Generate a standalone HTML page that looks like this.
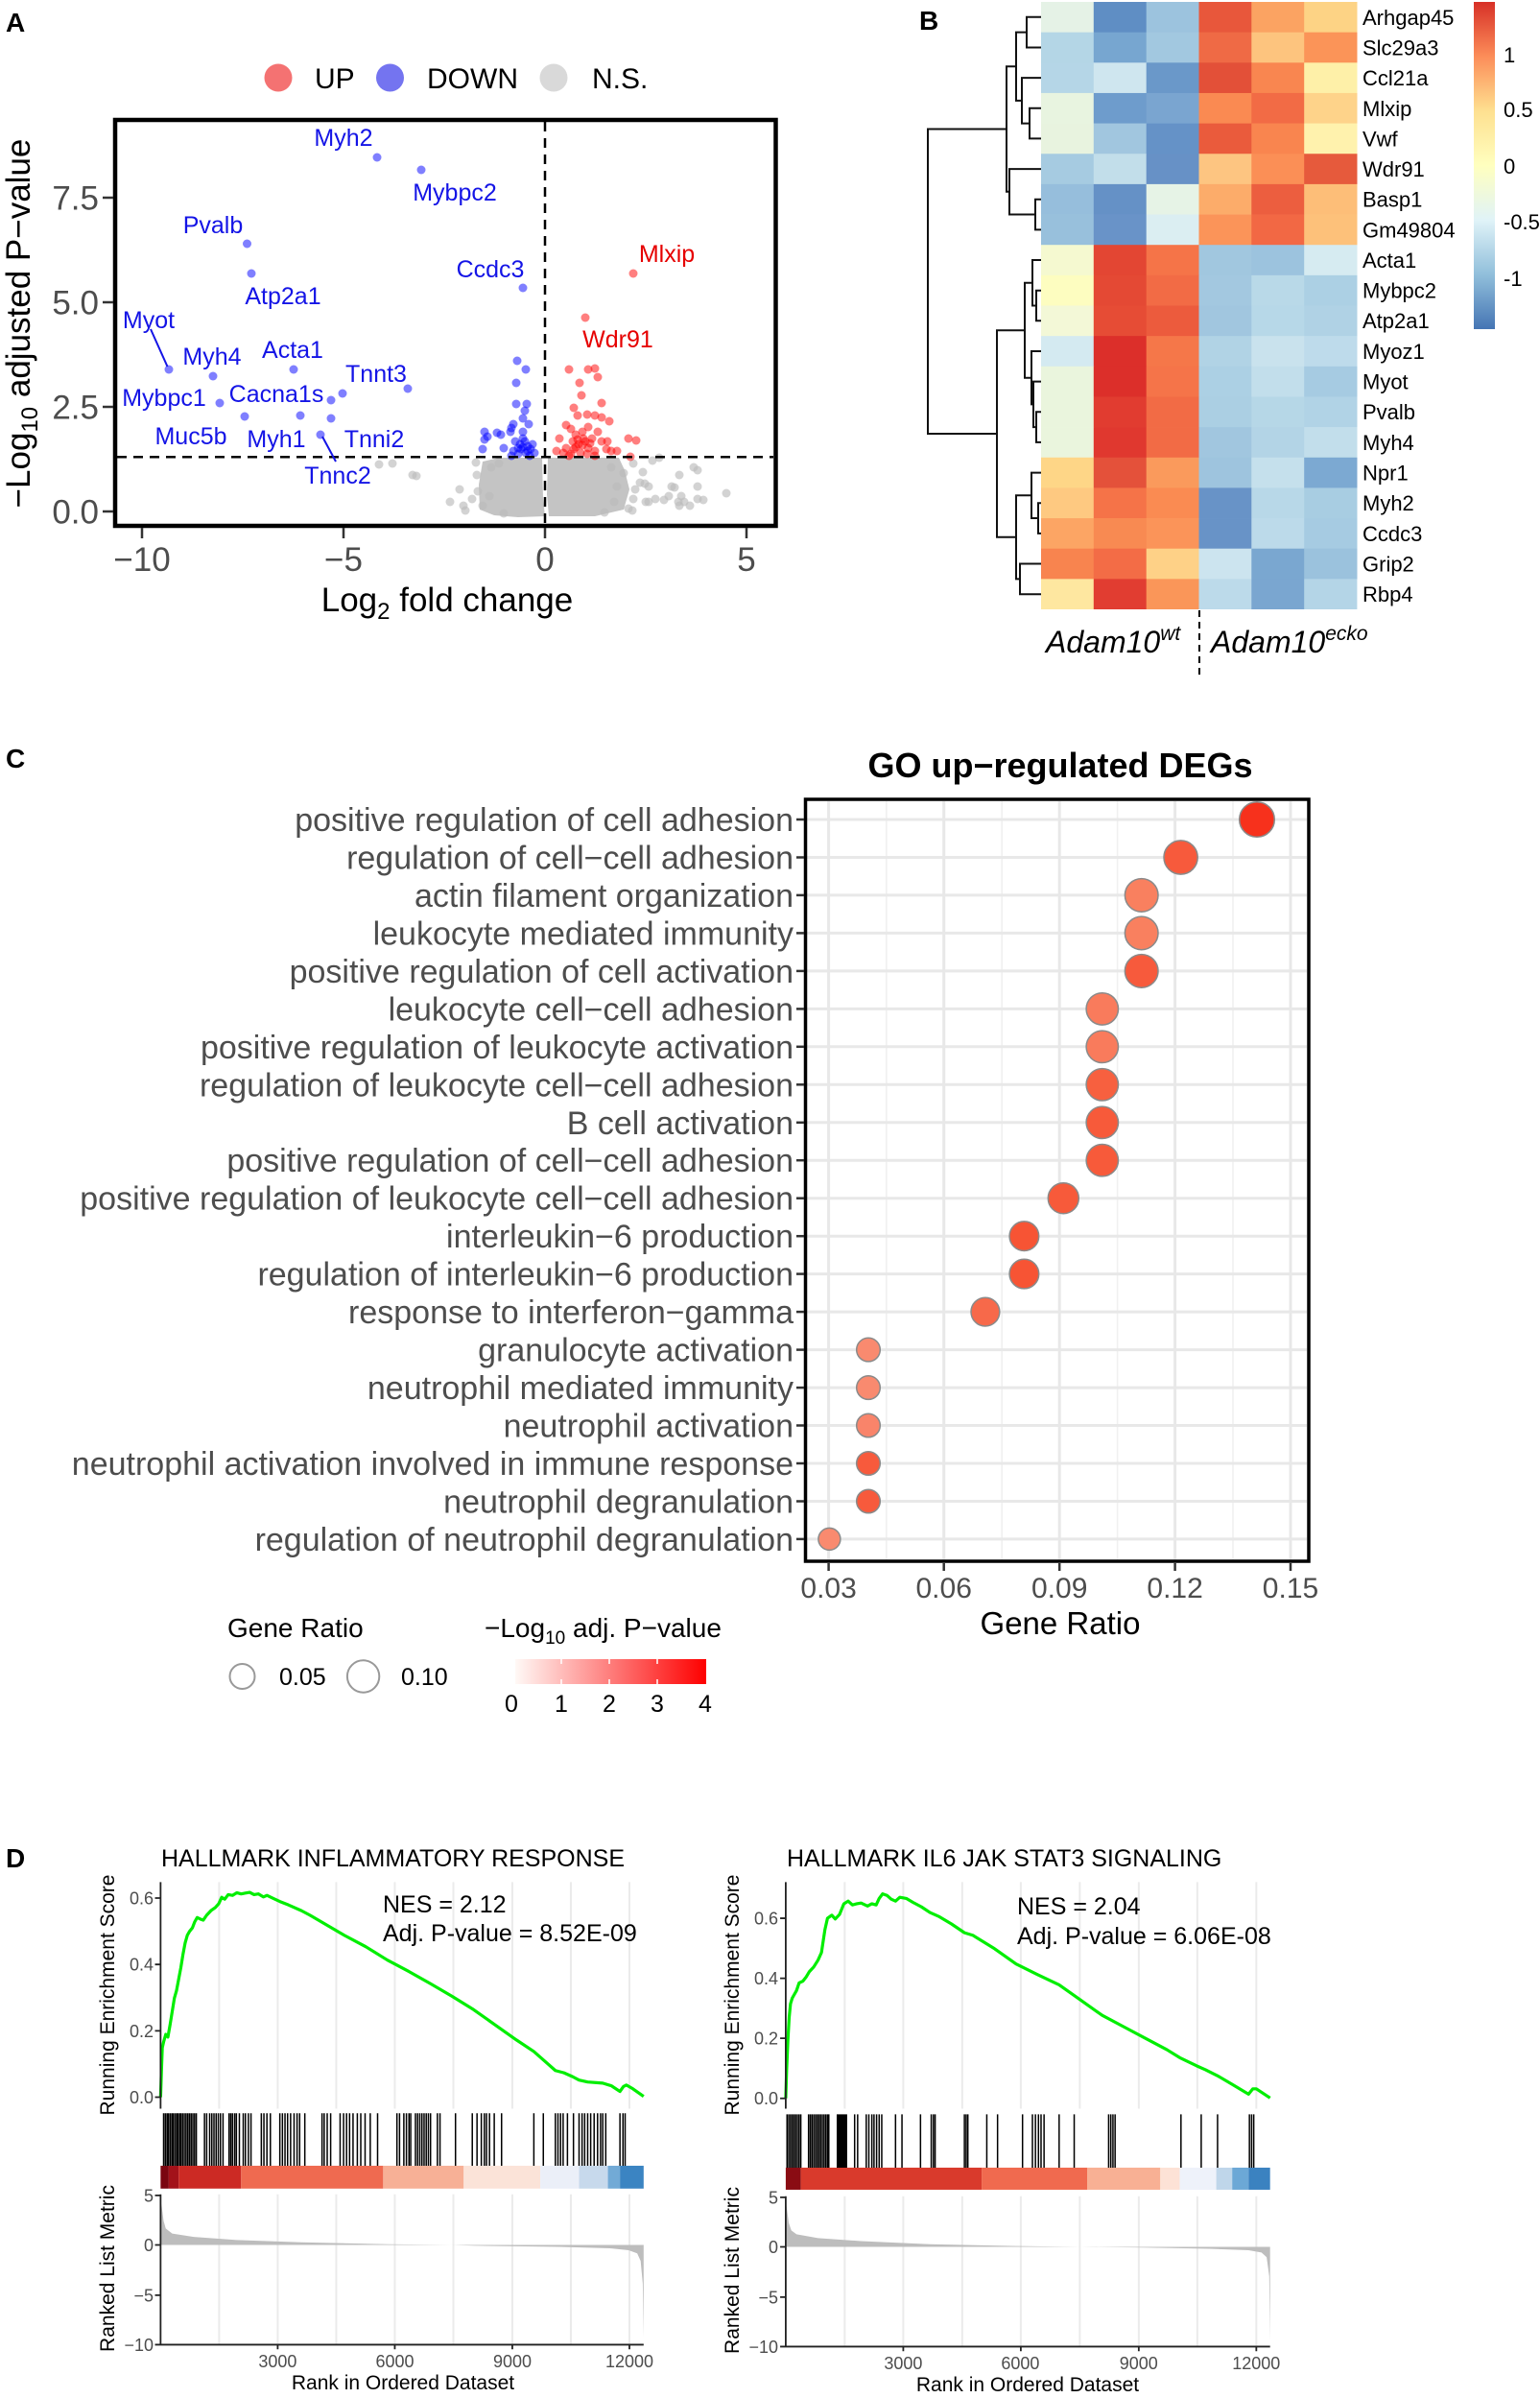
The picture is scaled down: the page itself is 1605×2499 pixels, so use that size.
<!DOCTYPE html>
<html><head><meta charset="utf-8"><style>
html,body{margin:0;padding:0;background:#fff}
svg{display:block;font-family:"Liberation Sans",Arial,sans-serif}
</style></head><body>
<svg width="1605" height="2499" viewBox="0 0 1605 2499" xmlns="http://www.w3.org/2000/svg">
<defs>
<linearGradient id="cb" x1="0" y1="0" x2="0" y2="1">
<stop offset="0" stop-color="#d73027"/><stop offset="0.1667" stop-color="#fc8d59"/><stop offset="0.3333" stop-color="#fee090"/><stop offset="0.5" stop-color="#ffffbf"/><stop offset="0.6667" stop-color="#e0f3f8"/><stop offset="0.8333" stop-color="#91bfdb"/><stop offset="1" stop-color="#4575b4"/>
</linearGradient>
<linearGradient id="rg" x1="0" y1="0" x2="1" y2="0">
<stop offset="0" stop-color="#fff9f6"/><stop offset="1" stop-color="#fe0000"/>
</linearGradient>
</defs>
<rect width="1605" height="2499" fill="#fff"/>

<!-- ================= PANEL A ================= -->
<text x="6" y="33" font-size="28" font-weight="bold">A</text>
<circle cx="290" cy="81" r="14.5" fill="#f47272"/>
<text x="328" y="92" font-size="30">UP</text>
<circle cx="406.5" cy="81" r="14.5" fill="#7474f0"/>
<text x="445" y="92" font-size="30">DOWN</text>
<circle cx="577" cy="81" r="14.5" fill="#d9d9d9"/>
<text x="617" y="92" font-size="30">N.S.</text>

<g fill="#c4c4c4">
<path d="M503,481 L520,477 L565,477 L566,520 L568,538 L540,539 L515,537 L500,531 L499,505 Z"/>
<path d="M571,477 L645,477 L651,490 L656,510 L650,531 L620,538 L572,538 L570,515 Z"/>
</g>
<g fill="#bcbcbc" fill-opacity="0.65">
<circle cx="395" cy="484" r="4.5"/><circle cx="409" cy="483" r="4.5"/><circle cx="430" cy="495" r="4.5"/><circle cx="434" cy="496" r="4.5"/>
<circle cx="469" cy="523" r="4.5"/><circle cx="479" cy="510" r="4.5"/><circle cx="485" cy="532" r="4.5"/><circle cx="496" cy="482" r="4.5"/>
<circle cx="497" cy="495" r="4.5"/><circle cx="498" cy="512" r="4.5"/><circle cx="483" cy="527" r="4.5"/><circle cx="503" cy="527" r="4.5"/>
<circle cx="510" cy="517" r="4.5"/><circle cx="512" cy="487" r="4.5"/><circle cx="520" cy="483" r="4.5"/><circle cx="492" cy="520" r="4.5"/>
<circle cx="687" cy="477" r="4.5"/><circle cx="723" cy="487" r="4.5"/><circle cx="727" cy="507" r="4.5"/><circle cx="757" cy="514" r="4.5"/>
<circle cx="667" cy="503" r="4.5"/><circle cx="672" cy="504" r="4.5"/><circle cx="662" cy="510" r="4.5"/><circle cx="700" cy="507" r="4.5"/>
<circle cx="710" cy="517" r="4.5"/><circle cx="713" cy="523" r="4.5"/><circle cx="707" cy="523" r="4.5"/><circle cx="683" cy="520" r="4.5"/>
<circle cx="673" cy="523" r="4.5"/><circle cx="655" cy="530" r="4.5"/><circle cx="640" cy="523" r="4.5"/><circle cx="650" cy="493" r="4.5"/>
<circle cx="637" cy="487" r="4.5"/><circle cx="643" cy="507" r="4.5"/><circle cx="727" cy="520" r="4.5"/><circle cx="697" cy="517" r="4.5"/>
<circle cx="680" cy="480" r="4.5"/><circle cx="670" cy="492" r="4.5"/><circle cx="676" cy="507" r="4.5"/><circle cx="708" cy="495" r="4.5"/>
<circle cx="727" cy="490" r="4.5"/><circle cx="703" cy="508" r="4.5"/><circle cx="733" cy="521" r="4.5"/><circle cx="676" cy="523" r="4.5"/>
<circle cx="692" cy="521" r="4.5"/><circle cx="659" cy="532" r="4.5"/><circle cx="708" cy="527" r="4.5"/><circle cx="719" cy="527" r="4.5"/>
<circle cx="660" cy="520" r="4.5"/><circle cx="630" cy="534" r="4.5"/><circle cx="525" cy="535" r="4.5"/><circle cx="660" cy="483" r="4.5"/>
</g>
<g fill="#0000ff" fill-opacity="0.5">
<circle cx="539" cy="376" r="4.5"/><circle cx="548" cy="385" r="4.5"/><circle cx="538" cy="399" r="4.5"/><circle cx="538" cy="421" r="4.5"/>
<circle cx="549" cy="421" r="4.5"/><circle cx="547" cy="428" r="4.5"/><circle cx="545" cy="436" r="4.5"/><circle cx="551" cy="442" r="4.5"/>
<circle cx="535" cy="442" r="4.5"/><circle cx="532" cy="450" r="4.5"/><circle cx="545" cy="450" r="4.5"/><circle cx="505" cy="450" r="4.5"/>
<circle cx="518" cy="451" r="4.5"/><circle cx="505" cy="458" r="4.5"/><circle cx="503" cy="468" r="4.5"/><circle cx="525" cy="467" r="4.5"/>
<circle cx="537" cy="460" r="4.5"/><circle cx="542" cy="463" r="4.5"/><circle cx="547" cy="460" r="4.5"/><circle cx="550" cy="465" r="4.5"/>
<circle cx="553" cy="468" r="4.5"/><circle cx="543" cy="468" r="4.5"/><circle cx="535" cy="470" r="4.5"/><circle cx="548" cy="472" r="4.5"/>
<circle cx="557" cy="472" r="4.5"/><circle cx="508" cy="455" r="4.5"/><circle cx="522" cy="453" r="4.5"/><circle cx="533" cy="475" r="4.5"/>
<circle cx="552" cy="475" r="4.5"/><circle cx="540" cy="467" r="4.5"/><circle cx="545" cy="457" r="4.5"/><circle cx="533" cy="446" r="4.5"/>
<circle cx="545" cy="466" r="4.5"/><circle cx="550" cy="470" r="4.5"/><circle cx="540" cy="473" r="4.5"/><circle cx="555" cy="463" r="4.5"/>
<circle cx="393" cy="164" r="4.5"/><circle cx="439" cy="177" r="4.5"/><circle cx="257.5" cy="254" r="4.5"/><circle cx="262" cy="285" r="4.5"/>
<circle cx="545" cy="300" r="4.5"/><circle cx="176" cy="385" r="4.5"/><circle cx="222" cy="392" r="4.5"/><circle cx="306" cy="385" r="4.5"/>
<circle cx="229" cy="420" r="4.5"/><circle cx="255" cy="434" r="4.5"/><circle cx="313" cy="433" r="4.5"/><circle cx="425" cy="405" r="4.5"/>
<circle cx="357" cy="410" r="4.5"/><circle cx="345" cy="417" r="4.5"/><circle cx="345" cy="436" r="4.5"/><circle cx="334" cy="453" r="4.5"/>
</g>
<g fill="#ff0000" fill-opacity="0.5">
<circle cx="593" cy="385" r="4.5"/><circle cx="613" cy="385" r="4.5"/><circle cx="620" cy="384" r="4.5"/><circle cx="623" cy="393" r="4.5"/>
<circle cx="604" cy="399" r="4.5"/><circle cx="606" cy="412" r="4.5"/><circle cx="598" cy="425" r="4.5"/><circle cx="627" cy="420" r="4.5"/>
<circle cx="612" cy="432" r="4.5"/><circle cx="602" cy="433" r="4.5"/><circle cx="620" cy="433" r="4.5"/><circle cx="627" cy="435" r="4.5"/>
<circle cx="635" cy="439" r="4.5"/><circle cx="590" cy="443" r="4.5"/><circle cx="583" cy="457" r="4.5"/><circle cx="655" cy="457" r="4.5"/>
<circle cx="663" cy="459" r="4.5"/><circle cx="643" cy="470" r="4.5"/><circle cx="657" cy="476" r="4.5"/><circle cx="632" cy="468" r="4.5"/>
<circle cx="595" cy="447" r="4.5"/><circle cx="600" cy="453" r="4.5"/><circle cx="607" cy="450" r="4.5"/><circle cx="613" cy="445" r="4.5"/>
<circle cx="617" cy="457" r="4.5"/><circle cx="610" cy="460" r="4.5"/><circle cx="603" cy="463" r="4.5"/><circle cx="597" cy="460" r="4.5"/>
<circle cx="590" cy="467" r="4.5"/><circle cx="587" cy="472" r="4.5"/><circle cx="595" cy="473" r="4.5"/><circle cx="605" cy="472" r="4.5"/>
<circle cx="613" cy="467" r="4.5"/><circle cx="620" cy="470" r="4.5"/><circle cx="627" cy="460" r="4.5"/><circle cx="623" cy="450" r="4.5"/>
<circle cx="633" cy="460" r="4.5"/><circle cx="637" cy="470" r="4.5"/><circle cx="612" cy="473" r="4.5"/><circle cx="598" cy="468" r="4.5"/>
<circle cx="608" cy="457" r="4.5"/><circle cx="620" cy="475" r="4.5"/><circle cx="593" cy="475" r="4.5"/><circle cx="580" cy="470" r="4.5"/>
<circle cx="600" cy="466" r="4.5"/><circle cx="607" cy="464" r="4.5"/><circle cx="615" cy="462" r="4.5"/><circle cx="602" cy="458" r="4.5"/>
<circle cx="660" cy="285" r="4.5"/><circle cx="610" cy="331" r="4.5"/>
</g>
<line x1="122" y1="476.3" x2="806" y2="476.3" stroke="#000" stroke-width="2.5" stroke-dasharray="10,7"/>
<line x1="568" y1="127" x2="568" y2="546" stroke="#000" stroke-width="2.5" stroke-dasharray="10,7"/>
<line x1="157" y1="343" x2="174.5" y2="382" stroke="#1414e6" stroke-width="2"/>
<line x1="336" y1="455" x2="350" y2="481" stroke="#1414e6" stroke-width="2"/>
<g font-size="25" fill="#1414e6" text-anchor="middle">
<text x="358" y="152">Myh2</text><text x="474" y="209">Mybpc2</text><text x="222" y="243">Pvalb</text>
<text x="295" y="317">Atp2a1</text><text x="511" y="289">Ccdc3</text><text x="155" y="342">Myot</text>
<text x="221" y="380">Myh4</text><text x="305" y="373">Acta1</text><text x="392" y="398">Tnnt3</text>
<text x="171" y="423">Mybpc1</text><text x="288" y="419">Cacna1s</text><text x="199" y="463">Muc5b</text>
<text x="288" y="466">Myh1</text><text x="390" y="466">Tnni2</text><text x="352" y="504">Tnnc2</text>
</g>
<g font-size="25" fill="#e60000" text-anchor="middle">
<text x="695" y="273">Mlxip</text><text x="644" y="362">Wdr91</text>
</g>
<rect x="120" y="125" width="688.5" height="423" fill="none" stroke="#000" stroke-width="4.5"/>
<g stroke="#333" stroke-width="2.5">
<line x1="107" y1="533" x2="118" y2="533"/><line x1="107" y1="424" x2="118" y2="424"/>
<line x1="107" y1="315" x2="118" y2="315"/><line x1="107" y1="206" x2="118" y2="206"/>
<line x1="148" y1="550" x2="148" y2="561"/><line x1="358" y1="550" x2="358" y2="561"/>
<line x1="568" y1="550" x2="568" y2="561"/><line x1="778" y1="550" x2="778" y2="561"/>
</g>
<g font-size="35" fill="#4d4d4d">
<text x="103" y="545.5" text-anchor="end">0.0</text><text x="103" y="436.5" text-anchor="end">2.5</text>
<text x="103" y="327.5" text-anchor="end">5.0</text><text x="103" y="218.5" text-anchor="end">7.5</text>
<text x="148" y="595" text-anchor="middle">−10</text><text x="358" y="595" text-anchor="middle">−5</text>
<text x="568" y="595" text-anchor="middle">0</text><text x="778" y="595" text-anchor="middle">5</text>
</g>
<text x="466" y="637" font-size="35" text-anchor="middle">Log<tspan font-size="24" dy="8">2</tspan><tspan dy="-8"> fold change</tspan></text>
<text x="31" y="337" font-size="35" text-anchor="middle" transform="rotate(-90 31 337)">−Log<tspan font-size="24" dy="8">10</tspan><tspan dy="-8"> adjusted P−value</tspan></text>

<!-- ================= PANEL B ================= -->
<text x="958" y="31" font-size="28" font-weight="bold">B</text>
<g>
<rect x="1085" y="2" width="55.3" height="32" fill="#e5f2e6"/><rect x="1139.8" y="2" width="55.3" height="32" fill="#5f8ec4"/><rect x="1194.7" y="2" width="55.3" height="32" fill="#9cc3de"/><rect x="1249.5" y="2" width="55.3" height="32" fill="#e8573b"/><rect x="1304.3" y="2" width="55.3" height="32" fill="#fba362"/><rect x="1359.2" y="2" width="55.3" height="32" fill="#fdd385"/>
<rect x="1085" y="33.65" width="55.3" height="32" fill="#b4d6e6"/><rect x="1139.8" y="33.65" width="55.3" height="32" fill="#77a6d0"/><rect x="1194.7" y="33.65" width="55.3" height="32" fill="#a2c8e0"/><rect x="1249.5" y="33.65" width="55.3" height="32" fill="#ef6a45"/><rect x="1304.3" y="33.65" width="55.3" height="32" fill="#fdc47e"/><rect x="1359.2" y="33.65" width="55.3" height="32" fill="#fb9458"/>
<rect x="1085" y="65.3" width="55.3" height="32" fill="#b5d6e7"/><rect x="1139.8" y="65.3" width="55.3" height="32" fill="#cfe6ef"/><rect x="1194.7" y="65.3" width="55.3" height="32" fill="#6a98c9"/><rect x="1249.5" y="65.3" width="55.3" height="32" fill="#e35038"/><rect x="1304.3" y="65.3" width="55.3" height="32" fill="#f98650"/><rect x="1359.2" y="65.3" width="55.3" height="32" fill="#fef0a8"/>
<rect x="1085" y="96.95" width="55.3" height="32" fill="#e8f4e0"/><rect x="1139.8" y="96.95" width="55.3" height="32" fill="#6e9ccc"/><rect x="1194.7" y="96.95" width="55.3" height="32" fill="#7aa5d0"/><rect x="1249.5" y="96.95" width="55.3" height="32" fill="#fa8a52"/><rect x="1304.3" y="96.95" width="55.3" height="32" fill="#f26b45"/><rect x="1359.2" y="96.95" width="55.3" height="32" fill="#fed38a"/>
<rect x="1085" y="128.6" width="55.3" height="32" fill="#e8f3df"/><rect x="1139.8" y="128.6" width="55.3" height="32" fill="#a1c6df"/><rect x="1194.7" y="128.6" width="55.3" height="32" fill="#6592c7"/><rect x="1249.5" y="128.6" width="55.3" height="32" fill="#ea5b3c"/><rect x="1304.3" y="128.6" width="55.3" height="32" fill="#f9854f"/><rect x="1359.2" y="128.6" width="55.3" height="32" fill="#fff2ad"/>
<rect x="1085" y="160.25" width="55.3" height="32" fill="#a6cbe1"/><rect x="1139.8" y="160.25" width="55.3" height="32" fill="#c2deea"/><rect x="1194.7" y="160.25" width="55.3" height="32" fill="#6791c6"/><rect x="1249.5" y="160.25" width="55.3" height="32" fill="#fdc581"/><rect x="1304.3" y="160.25" width="55.3" height="32" fill="#fb8f56"/><rect x="1359.2" y="160.25" width="55.3" height="32" fill="#e65a3c"/>
<rect x="1085" y="191.9" width="55.3" height="32" fill="#96bedc"/><rect x="1139.8" y="191.9" width="55.3" height="32" fill="#6591c6"/><rect x="1194.7" y="191.9" width="55.3" height="32" fill="#e6f3e6"/><rect x="1249.5" y="191.9" width="55.3" height="32" fill="#fcac6a"/><rect x="1304.3" y="191.9" width="55.3" height="32" fill="#ec5e3f"/><rect x="1359.2" y="191.9" width="55.3" height="32" fill="#fdbe78"/>
<rect x="1085" y="223.55" width="55.3" height="32" fill="#98c0dc"/><rect x="1139.8" y="223.55" width="55.3" height="32" fill="#6993c8"/><rect x="1194.7" y="223.55" width="55.3" height="32" fill="#dbeef2"/><rect x="1249.5" y="223.55" width="55.3" height="32" fill="#fb9459"/><rect x="1304.3" y="223.55" width="55.3" height="32" fill="#f26844"/><rect x="1359.2" y="223.55" width="55.3" height="32" fill="#fdc17a"/>
<rect x="1085" y="255.2" width="55.3" height="32" fill="#f5f9d0"/><rect x="1139.8" y="255.2" width="55.3" height="32" fill="#e34633"/><rect x="1194.7" y="255.2" width="55.3" height="32" fill="#f57448"/><rect x="1249.5" y="255.2" width="55.3" height="32" fill="#a1c7df"/><rect x="1304.3" y="255.2" width="55.3" height="32" fill="#9cc3de"/><rect x="1359.2" y="255.2" width="55.3" height="32" fill="#d6ebf1"/>
<rect x="1085" y="286.85" width="55.3" height="32" fill="#fdfdc0"/><rect x="1139.8" y="286.85" width="55.3" height="32" fill="#e44934"/><rect x="1194.7" y="286.85" width="55.3" height="32" fill="#f26b45"/><rect x="1249.5" y="286.85" width="55.3" height="32" fill="#a3c8e0"/><rect x="1304.3" y="286.85" width="55.3" height="32" fill="#b9d9e8"/><rect x="1359.2" y="286.85" width="55.3" height="32" fill="#acd0e4"/>
<rect x="1085" y="318.5" width="55.3" height="32" fill="#f3f8d7"/><rect x="1139.8" y="318.5" width="55.3" height="32" fill="#e64c35"/><rect x="1194.7" y="318.5" width="55.3" height="32" fill="#ec5b3d"/><rect x="1249.5" y="318.5" width="55.3" height="32" fill="#a1c6df"/><rect x="1304.3" y="318.5" width="55.3" height="32" fill="#b7d8e8"/><rect x="1359.2" y="318.5" width="55.3" height="32" fill="#b0d2e5"/>
<rect x="1085" y="350.15" width="55.3" height="32" fill="#d4eaf1"/><rect x="1139.8" y="350.15" width="55.3" height="32" fill="#dc2f2a"/><rect x="1194.7" y="350.15" width="55.3" height="32" fill="#f57749"/><rect x="1249.5" y="350.15" width="55.3" height="32" fill="#b1d3e5"/><rect x="1304.3" y="350.15" width="55.3" height="32" fill="#c9e2ed"/><rect x="1359.2" y="350.15" width="55.3" height="32" fill="#bedbeb"/>
<rect x="1085" y="381.8" width="55.3" height="32" fill="#eaf5dd"/><rect x="1139.8" y="381.8" width="55.3" height="32" fill="#dc2f2a"/><rect x="1194.7" y="381.8" width="55.3" height="32" fill="#f57449"/><rect x="1249.5" y="381.8" width="55.3" height="32" fill="#acd0e4"/><rect x="1304.3" y="381.8" width="55.3" height="32" fill="#c2deeb"/><rect x="1359.2" y="381.8" width="55.3" height="32" fill="#a6cbe2"/>
<rect x="1085" y="413.45" width="55.3" height="32" fill="#eaf5dd"/><rect x="1139.8" y="413.45" width="55.3" height="32" fill="#e13c30"/><rect x="1194.7" y="413.45" width="55.3" height="32" fill="#f26b45"/><rect x="1249.5" y="413.45" width="55.3" height="32" fill="#abcfe3"/><rect x="1304.3" y="413.45" width="55.3" height="32" fill="#b6d7e7"/><rect x="1359.2" y="413.45" width="55.3" height="32" fill="#b1d3e6"/>
<rect x="1085" y="445.1" width="55.3" height="32" fill="#eaf5dd"/><rect x="1139.8" y="445.1" width="55.3" height="32" fill="#e0382f"/><rect x="1194.7" y="445.1" width="55.3" height="32" fill="#f26b45"/><rect x="1249.5" y="445.1" width="55.3" height="32" fill="#a1c6df"/><rect x="1304.3" y="445.1" width="55.3" height="32" fill="#b3d4e6"/><rect x="1359.2" y="445.1" width="55.3" height="32" fill="#c2deeb"/>
<rect x="1085" y="476.75" width="55.3" height="32" fill="#fed687"/><rect x="1139.8" y="476.75" width="55.3" height="32" fill="#e4513a"/><rect x="1194.7" y="476.75" width="55.3" height="32" fill="#fa9a5c"/><rect x="1249.5" y="476.75" width="55.3" height="32" fill="#9ec4de"/><rect x="1304.3" y="476.75" width="55.3" height="32" fill="#c5e0ec"/><rect x="1359.2" y="476.75" width="55.3" height="32" fill="#7ca9d2"/>
<rect x="1085" y="508.4" width="55.3" height="32" fill="#fec981"/><rect x="1139.8" y="508.4" width="55.3" height="32" fill="#f57348"/><rect x="1194.7" y="508.4" width="55.3" height="32" fill="#fa8b52"/><rect x="1249.5" y="508.4" width="55.3" height="32" fill="#6893c7"/><rect x="1304.3" y="508.4" width="55.3" height="32" fill="#b8d8e8"/><rect x="1359.2" y="508.4" width="55.3" height="32" fill="#a8cde2"/>
<rect x="1085" y="540.05" width="55.3" height="32" fill="#fca564"/><rect x="1139.8" y="540.05" width="55.3" height="32" fill="#f88a52"/><rect x="1194.7" y="540.05" width="55.3" height="32" fill="#fb9459"/><rect x="1249.5" y="540.05" width="55.3" height="32" fill="#6893c7"/><rect x="1304.3" y="540.05" width="55.3" height="32" fill="#bcdaea"/><rect x="1359.2" y="540.05" width="55.3" height="32" fill="#a6cbe2"/>
<rect x="1085" y="571.7" width="55.3" height="32" fill="#f8844f"/><rect x="1139.8" y="571.7" width="55.3" height="32" fill="#f36c46"/><rect x="1194.7" y="571.7" width="55.3" height="32" fill="#fed187"/><rect x="1249.5" y="571.7" width="55.3" height="32" fill="#cce4ef"/><rect x="1304.3" y="571.7" width="55.3" height="32" fill="#7aa7d0"/><rect x="1359.2" y="571.7" width="55.3" height="32" fill="#9bc2dd"/>
<rect x="1085" y="603.35" width="55.3" height="31.65" fill="#fee7a0"/><rect x="1139.8" y="603.35" width="55.3" height="31.65" fill="#e13d31"/><rect x="1194.7" y="603.35" width="55.3" height="31.65" fill="#fa9659"/><rect x="1249.5" y="603.35" width="55.3" height="31.65" fill="#bcdaea"/><rect x="1304.3" y="603.35" width="55.3" height="31.65" fill="#7aa6d0"/><rect x="1359.2" y="603.35" width="55.2" height="31.65" fill="#b4d5e7"/>
</g>
<path fill="none" stroke="#111" stroke-width="2" d="M1085 17.8H1070V49.5H1085 M1085 112.8H1073V144.4H1085 M1085 81.1H1065V128.6H1073 M1070 33.65H1059V104.85H1065 M1085 207.7H1079V239.4H1085 M1085 176.1H1052V223.55H1079 M1059 69.25H1049V199.8H1052 M1085 302.7H1080V334.3H1085 M1085 271H1076V318.5H1080 M1085 429.3H1080V460.9H1085 M1085 397.6H1077V445.1H1080 M1085 366H1075V421.35H1077 M1076 294.75H1068V393.7H1075 M1085 524.2H1082V555.9H1085 M1085 492.6H1075V540.05H1082 M1085 587.5H1063V619.2H1085 M1075 516.3H1059V603.35H1063 M1068 344.2H1039V559.8H1059 M1049 134.5H967V452H1039"/>
<g font-size="22" fill="#000">
<text x="1420" y="26">Arhgap45</text><text x="1420" y="57.5">Slc29a3</text><text x="1420" y="89">Ccl21a</text>
<text x="1420" y="121">Mlxip</text><text x="1420" y="152.5">Vwf</text><text x="1420" y="184">Wdr91</text>
<text x="1420" y="215.5">Basp1</text><text x="1420" y="247.5">Gm49804</text><text x="1420" y="279">Acta1</text>
<text x="1420" y="310.5">Mybpc2</text><text x="1420" y="342">Atp2a1</text><text x="1420" y="374">Myoz1</text>
<text x="1420" y="405.5">Myot</text><text x="1420" y="437">Pvalb</text><text x="1420" y="469">Myh4</text>
<text x="1420" y="500.5">Npr1</text><text x="1420" y="532">Myh2</text><text x="1420" y="564">Ccdc3</text>
<text x="1420" y="595.5">Grip2</text><text x="1420" y="627">Rbp4</text>
</g>
<rect x="1536" y="2" width="22" height="341" fill="url(#cb)"/>
<g font-size="22" fill="#000">
<text x="1567" y="65">1</text><text x="1567" y="122">0.5</text><text x="1567" y="181">0</text>
<text x="1567" y="239">-0.5</text><text x="1567" y="298">-1</text>
</g>
<line x1="1250" y1="636" x2="1250" y2="705" stroke="#000" stroke-width="2" stroke-dasharray="7,5"/>
<text x="1090" y="680" font-size="32" font-style="italic">Adam10<tspan font-size="21" dy="-13">wt</tspan></text>
<text x="1262" y="680" font-size="32" font-style="italic">Adam10<tspan font-size="21" dy="-13">ecko</tspan></text>

<!-- ================= PANEL C ================= -->
<text x="6" y="800" font-size="28" font-weight="bold">C</text>
<text x="1105" y="810" font-size="36" font-weight="bold" text-anchor="middle">GO up−regulated DEGs</text>
<g stroke="#f0f0f0" stroke-width="1.6">
<line x1="923.8" y1="835" x2="923.8" y2="1625"/><line x1="1044.2" y1="835" x2="1044.2" y2="1625"/>
<line x1="1164.6" y1="835" x2="1164.6" y2="1625"/><line x1="1285" y1="835" x2="1285" y2="1625"/>
</g>
<g stroke="#e8e8e8" stroke-width="3">
<line x1="863.6" y1="835" x2="863.6" y2="1625"/><line x1="983.7" y1="835" x2="983.7" y2="1625"/>
<line x1="1104.2" y1="835" x2="1104.2" y2="1625"/><line x1="1224.6" y1="835" x2="1224.6" y2="1625"/>
<line x1="1345" y1="835" x2="1345" y2="1625"/>
<line x1="841" y1="854" x2="1362" y2="854"/><line x1="841" y1="893.5" x2="1362" y2="893.5"/>
<line x1="841" y1="932.9" x2="1362" y2="932.9"/><line x1="841" y1="972.4" x2="1362" y2="972.4"/>
<line x1="841" y1="1011.9" x2="1362" y2="1011.9"/><line x1="841" y1="1051.4" x2="1362" y2="1051.4"/>
<line x1="841" y1="1090.8" x2="1362" y2="1090.8"/><line x1="841" y1="1130.3" x2="1362" y2="1130.3"/>
<line x1="841" y1="1169.8" x2="1362" y2="1169.8"/><line x1="841" y1="1209.2" x2="1362" y2="1209.2"/>
<line x1="841" y1="1248.7" x2="1362" y2="1248.7"/><line x1="841" y1="1288.2" x2="1362" y2="1288.2"/>
<line x1="841" y1="1327.6" x2="1362" y2="1327.6"/><line x1="841" y1="1367.1" x2="1362" y2="1367.1"/>
<line x1="841" y1="1406.6" x2="1362" y2="1406.6"/><line x1="841" y1="1446.1" x2="1362" y2="1446.1"/>
<line x1="841" y1="1485.5" x2="1362" y2="1485.5"/><line x1="841" y1="1525" x2="1362" y2="1525"/>
<line x1="841" y1="1564.5" x2="1362" y2="1564.5"/><line x1="841" y1="1603.9" x2="1362" y2="1603.9"/>
</g>
<g stroke="#8a8a8a" stroke-width="1.5">
<circle cx="1310" cy="854" r="18.3" fill="#f7311c"/>
<circle cx="1230.6" cy="893.5" r="17.6" fill="#f75a3c"/>
<circle cx="1189.7" cy="932.9" r="17.3" fill="#f9805f"/>
<circle cx="1189.7" cy="972.4" r="17.3" fill="#f9805f"/>
<circle cx="1189.7" cy="1011.9" r="17.3" fill="#f75a3c"/>
<circle cx="1148.8" cy="1051.4" r="16.7" fill="#f97b5c"/>
<circle cx="1148.8" cy="1090.8" r="16.7" fill="#f97b5c"/>
<circle cx="1148.8" cy="1130.3" r="16.7" fill="#f7603f"/>
<circle cx="1148.8" cy="1169.8" r="16.7" fill="#f75a3a"/>
<circle cx="1148.8" cy="1209.2" r="16.7" fill="#f75a3a"/>
<circle cx="1108.3" cy="1248.7" r="16" fill="#f75a3a"/>
<circle cx="1067.4" cy="1288.2" r="15.3" fill="#f75434"/>
<circle cx="1067.4" cy="1327.6" r="15.3" fill="#f75434"/>
<circle cx="1026.9" cy="1367.1" r="14.9" fill="#f7694a"/>
<circle cx="905" cy="1406.6" r="12.3" fill="#f98a6f"/>
<circle cx="905" cy="1446.1" r="12.3" fill="#f98a6f"/>
<circle cx="905" cy="1485.5" r="12.3" fill="#f9846a"/>
<circle cx="905" cy="1525" r="12.3" fill="#f75a3c"/>
<circle cx="905" cy="1564.5" r="12.3" fill="#f75a3c"/>
<circle cx="864.4" cy="1603.9" r="11.5" fill="#f98a6f"/>
</g>
<rect x="839.5" y="833" width="524.5" height="794" fill="none" stroke="#000" stroke-width="3.5"/>
<g stroke="#333" stroke-width="2.5">
<line x1="830" y1="854" x2="838" y2="854"/><line x1="830" y1="893.5" x2="838" y2="893.5"/><line x1="830" y1="932.9" x2="838" y2="932.9"/><line x1="830" y1="972.4" x2="838" y2="972.4"/>
<line x1="830" y1="1011.9" x2="838" y2="1011.9"/><line x1="830" y1="1051.4" x2="838" y2="1051.4"/><line x1="830" y1="1090.8" x2="838" y2="1090.8"/><line x1="830" y1="1130.3" x2="838" y2="1130.3"/>
<line x1="830" y1="1169.8" x2="838" y2="1169.8"/><line x1="830" y1="1209.2" x2="838" y2="1209.2"/><line x1="830" y1="1248.7" x2="838" y2="1248.7"/><line x1="830" y1="1288.2" x2="838" y2="1288.2"/>
<line x1="830" y1="1327.6" x2="838" y2="1327.6"/><line x1="830" y1="1367.1" x2="838" y2="1367.1"/><line x1="830" y1="1406.6" x2="838" y2="1406.6"/><line x1="830" y1="1446.1" x2="838" y2="1446.1"/>
<line x1="830" y1="1485.5" x2="838" y2="1485.5"/><line x1="830" y1="1525" x2="838" y2="1525"/><line x1="830" y1="1564.5" x2="838" y2="1564.5"/><line x1="830" y1="1603.9" x2="838" y2="1603.9"/>
<line x1="863.6" y1="1629" x2="863.6" y2="1637"/><line x1="983.7" y1="1629" x2="983.7" y2="1637"/><line x1="1104.2" y1="1629" x2="1104.2" y2="1637"/>
<line x1="1224.6" y1="1629" x2="1224.6" y2="1637"/><line x1="1345" y1="1629" x2="1345" y2="1637"/>
</g>
<g font-size="34" fill="#4d4d4d" text-anchor="end">
<text x="827" y="866">positive regulation of cell adhesion</text>
<text x="827" y="905.5">regulation of cell−cell adhesion</text>
<text x="827" y="944.9">actin filament organization</text>
<text x="827" y="984.4">leukocyte mediated immunity</text>
<text x="827" y="1023.9">positive regulation of cell activation</text>
<text x="827" y="1063.4">leukocyte cell−cell adhesion</text>
<text x="827" y="1102.8">positive regulation of leukocyte activation</text>
<text x="827" y="1142.3">regulation of leukocyte cell−cell adhesion</text>
<text x="827" y="1181.8">B cell activation</text>
<text x="827" y="1221.2">positive regulation of cell−cell adhesion</text>
<text x="827" y="1260.7">positive regulation of leukocyte cell−cell adhesion</text>
<text x="827" y="1300.2">interleukin−6 production</text>
<text x="827" y="1339.6">regulation of interleukin−6 production</text>
<text x="827" y="1379.1">response to interferon−gamma</text>
<text x="827" y="1418.6">granulocyte activation</text>
<text x="827" y="1458.1">neutrophil mediated immunity</text>
<text x="827" y="1497.5">neutrophil activation</text>
<text x="827" y="1537">neutrophil activation involved in immune response</text>
<text x="827" y="1576.5">neutrophil degranulation</text>
<text x="827" y="1615.9">regulation of neutrophil degranulation</text>
</g>
<g font-size="30" fill="#4d4d4d" text-anchor="middle">
<text x="863.6" y="1665">0.03</text><text x="983.7" y="1665">0.06</text><text x="1104.2" y="1665">0.09</text>
<text x="1224.6" y="1665">0.12</text><text x="1345" y="1665">0.15</text>
</g>
<text x="1105" y="1703" font-size="33" text-anchor="middle">Gene Ratio</text>
<!-- C legends -->
<text x="237" y="1706" font-size="28">Gene Ratio</text>
<circle cx="252.5" cy="1747" r="13" fill="none" stroke="#999" stroke-width="2"/>
<text x="291" y="1756" font-size="25">0.05</text>
<circle cx="378.6" cy="1747" r="16.7" fill="none" stroke="#999" stroke-width="2"/>
<text x="418" y="1756" font-size="25">0.10</text>
<text x="505" y="1706" font-size="28">−Log<tspan font-size="19" dy="7">10</tspan><tspan dy="-7"> adj. P−value</tspan></text>
<rect x="537" y="1729" width="199" height="26" fill="url(#rg)"/>
<g stroke="#fff" stroke-width="1.5">
<line x1="585" y1="1729" x2="585" y2="1734"/><line x1="585" y1="1750" x2="585" y2="1755"/>
<line x1="635" y1="1729" x2="635" y2="1734"/><line x1="635" y1="1750" x2="635" y2="1755"/>
<line x1="685" y1="1729" x2="685" y2="1734"/><line x1="685" y1="1750" x2="685" y2="1755"/>
</g>
<g font-size="25" text-anchor="middle">
<text x="533" y="1784">0</text><text x="585" y="1784">1</text><text x="635" y="1784">2</text><text x="685" y="1784">3</text><text x="735" y="1784">4</text>
</g>

<!-- ================= PANEL D ================= -->
<text x="6" y="1946" font-size="28" font-weight="bold">D</text>
<text x="168" y="1945" font-size="25">HALLMARK INFLAMMATORY RESPONSE</text>
<text x="820" y="1945" font-size="25">HALLMARK IL6 JAK STAT3 SIGNALING</text>

<g transform="translate(0,1880) scale(0.4487,0.3968)">
<path fill="none" stroke="#ebebeb" stroke-width="2" vector-effect="non-scaling-stroke" d="M509 205V800M645 205V800M781 205V800M917 205V800M1053 205V800M1190 205V800M1326 205V800M1462 205V800M509 1025V1420M645 1025V1420M781 1025V1420M917 1025V1420M1053 1025V1420M1190 1025V1420M1326 1025V1420M1462 1025V1420"/>
<path fill="#bdbdbd" d="M373,1158 L373,1040 L376,1060 L380,1095 L385,1115 L400,1128 L450,1137 L550,1145 L700,1151 L900,1156 L1050,1158 L1100,1160 L1300,1163 L1420,1167 L1460,1172 L1480,1180 L1488,1200 L1493,1260 L1495,1400 L1495,1158 Z"/>
<rect x="373" y="950" width="19" height="60" fill="#7a0510"/>
<rect x="392" y="950" width="23" height="60" fill="#a3121a"/>
<rect x="415" y="950" width="145" height="60" fill="#cc2a24"/>
<rect x="560" y="950" width="330" height="60" fill="#ef6a50"/>
<rect x="890" y="950" width="187" height="60" fill="#f7b096"/>
<rect x="1077" y="950" width="178" height="60" fill="#fbe3d8"/>
<rect x="1255" y="950" width="90" height="60" fill="#ebeff8"/>
<rect x="1345" y="950" width="67" height="60" fill="#c7d9ec"/>
<rect x="1412" y="950" width="28" height="60" fill="#72aad6"/>
<rect x="1440" y="950" width="55" height="60" fill="#3b84c2"/>
<path fill="none" stroke="#000" stroke-width="1.5" vector-effect="non-scaling-stroke" d="M380 812V950M384 812V950M388 812V950M391 812V950M395 812V950M399 812V950M402 812V950M406 812V950M410 812V950M413 812V950M417 812V950M420 812V950M424 812V950M428 812V950M432 812V950M436 812V950M440 812V950M444 812V950M448 812V950M452 812V950M456 812V950M475 812V950M480 812V950M487 812V950M492 812V950M497 812V950M502 812V950M507 812V950M512 812V950M518 812V950M532 812V950M536 812V950M540 812V950M545 812V950M549 812V950M556 812V950M565 812V950M570 812V950M577 812V950M583 812V950M607 812V950M613 812V950M620 812V950M628 812V950M650 812V950M656 812V950M662 812V950M668 812V950M675 812V950M683 812V950M690 812V950M696 812V950M708 812V950M748 812V950M753 812V950M760 812V950M768 812V950M790 812V950M798 812V950M805 812V950M812 812V950M820 812V950M830 812V950M838 812V950M848 812V950M860 812V950M877 812V950M922 812V950M928 812V950M938 812V950M944 812V950M950 812V950M954 812V950M965 812V950M970 812V950M975 812V950M980 812V950M985 812V950M990 812V950M995 812V950M1000 812V950M1016 812V950M1022 812V950M1058 812V950M1097 812V950M1108 812V950M1118 812V950M1125 812V950M1130 812V950M1137 812V950M1148 812V950M1165 812V950M1240 812V950M1262 812V950M1290 812V950M1296 812V950M1302 812V950M1308 812V950M1318 812V950M1332 812V950M1345 812V950M1352 812V950M1358 812V950M1365 812V950M1372 812V950M1380 812V950M1388 812V950M1395 812V950M1400 812V950M1407 812V950M1440 812V950M1447 812V950M1452 812V950"/>
<polyline fill="none" stroke="#00ee00" stroke-width="3.2" stroke-linejoin="round" vector-effect="non-scaling-stroke" points="373,770 375,700 377,640 380,625 385,605 390,612 395,580 400,545 405,510 410,490 415,460 420,430 425,395 430,365 435,345 440,335 447,325 452,310 458,298 465,302 472,305 480,292 490,280 500,272 508,262 515,245 522,250 530,238 540,240 550,233 560,236 570,234 580,232 590,238 600,236 612,244 620,240 635,248 650,256 670,265 700,280 720,292 750,312 800,345 850,375 900,410 950,440 1000,472 1050,505 1100,540 1150,580 1200,620 1240,650 1270,680 1290,700 1310,706 1330,716 1345,725 1365,730 1400,733 1420,740 1440,755 1448,742 1455,738 1470,748 1495,768"/>
<path fill="none" stroke="#222" stroke-width="1.8" vector-effect="non-scaling-stroke" d="M373 205V800M373 1025V1420H1495M360 770H373M360 595.7H373M360 421.3H373M360 247H373M360 1028H373M360 1158H373M360 1290H373M360 1420H373M645 1420V1432M917 1420V1432M1190 1420V1432M1462 1420V1432"/>
</g>
<g font-size="18" fill="#4d4d4d" text-anchor="end">
<text x="160" y="1984.5">0.6</text><text x="160" y="2053.6">0.4</text><text x="160" y="2122.9">0.2</text><text x="160" y="2192">0.0</text>
<text x="160" y="2294.4">5</text><text x="160" y="2346">0</text><text x="160" y="2398.4">−5</text><text x="160" y="2450">−10</text>
</g>
<g font-size="18" fill="#4d4d4d" text-anchor="middle">
<text x="289.4" y="2467">3000</text><text x="411.5" y="2467">6000</text><text x="534" y="2467">9000</text><text x="656" y="2467">12000</text>
</g>
<text x="420" y="2490" font-size="21" text-anchor="middle">Rank in Ordered Dataset</text>
<text x="119" y="2079" font-size="21" text-anchor="middle" transform="rotate(-90 119 2079)">Running Enrichment Score</text>
<text x="119" y="2364" font-size="21" text-anchor="middle" transform="rotate(-90 119 2364)">Ranked List Metric</text>
<text x="399" y="1993" font-size="25">NES = 2.12</text>
<text x="399" y="2023" font-size="25">Adj. P-value = 8.52E-09</text>

<g transform="translate(700,1880) scale(0.4487,0.3968)">
<path fill="none" stroke="#ebebeb" stroke-width="2" vector-effect="non-scaling-stroke" d="M402 205V800M538 205V800M675 205V800M811 205V800M948 205V800M1085 205V800M1221 205V800M1358 205V800M402 1030V1425M538 1030V1425M675 1030V1425M811 1030V1425M948 1030V1425M1085 1030V1425M1221 1030V1425M1358 1030V1425"/>
<path fill="#bdbdbd" d="M265,1163 L265,1045 L268,1065 L272,1100 L278,1120 L290,1130 L340,1140 L440,1148 L600,1156 L800,1161 L950,1163 L1100,1165 L1250,1168 L1340,1172 L1370,1178 L1382,1190 L1388,1240 L1390,1410 L1390,1163 Z"/>
<rect x="265" y="955" width="35" height="58" fill="#8a0c13"/>
<rect x="300" y="955" width="420" height="58" fill="#d93a2c"/>
<rect x="720" y="955" width="245" height="58" fill="#f06a4f"/>
<rect x="965" y="955" width="170" height="58" fill="#f8b094"/>
<rect x="1135" y="955" width="45" height="58" fill="#fde2d6"/>
<rect x="1180" y="955" width="85" height="58" fill="#eef2fa"/>
<rect x="1265" y="955" width="37" height="58" fill="#bfd6ea"/>
<rect x="1302" y="955" width="38" height="58" fill="#6ca8d6"/>
<rect x="1340" y="955" width="50" height="58" fill="#3b82c0"/>
<path fill="none" stroke="#000" stroke-width="1.5" vector-effect="non-scaling-stroke" d="M268 815V955M272 815V955M276 815V955M280 815V955M284 815V955M288 815V955M292 815V955M296 815V955M300 815V955M318 815V955M322 815V955M326 815V955M330 815V955M334 815V955M338 815V955M342 815V955M346 815V955M350 815V955M354 815V955M358 815V955M362 815V955M365 815V955M385 815V955M388 815V955M391 815V955M394 815V955M397 815V955M400 815V955M403 815V955M406 815V955M425 815V955M432 815V955M452 815V955M458 815V955M465 815V955M470 815V955M476 815V955M482 815V955M488 815V955M520 815V955M535 815V955M578 815V955M603 815V955M608 815V955M612 815V955M680 815V955M684 815V955M688 815V955M732 815V955M757 815V955M815 815V955M838 815V955M845 815V955M852 815V955M858 815V955M865 815V955M900 815V955M935 815V955M1015 815V955M1020 815V955M1025 815V955M1030 815V955M1183 815V955M1230 815V955M1268 815V955M1342 815V955M1347 815V955M1352 815V955"/>
<polyline fill="none" stroke="#00ee00" stroke-width="3.2" stroke-linejoin="round" vector-effect="non-scaling-stroke" points="265,773 267,700 270,620 273,560 276,525 280,510 285,500 290,490 296,470 305,465 312,455 320,440 330,428 340,410 348,390 356,330 362,300 372,292 380,302 390,290 400,262 410,255 420,265 430,262 440,260 455,268 465,262 475,265 482,248 490,236 500,240 510,250 520,255 530,245 545,248 560,258 580,270 600,285 620,295 650,315 680,338 700,345 750,380 800,420 850,448 900,475 950,515 1000,555 1050,585 1100,615 1150,645 1180,666 1220,688 1240,698 1270,715 1300,735 1340,762 1350,748 1358,748 1390,772"/>
<path fill="none" stroke="#222" stroke-width="1.8" vector-effect="non-scaling-stroke" d="M265 205V800M265 1030V1425H1390M252 773H265M252 615.3H265M252 457.7H265M252 300H265M252 1033H265M252 1163H265M252 1295H265M252 1425H265M538 1425V1437M811 1425V1437M1085 1425V1437M1358 1425V1437"/>
</g>
<g font-size="18" fill="#4d4d4d" text-anchor="end">
<text x="811" y="2005.5">0.6</text><text x="811" y="2068">0.4</text><text x="811" y="2130.5">0.2</text><text x="811" y="2193">0.0</text>
<text x="811" y="2296.4">5</text><text x="811" y="2348">0</text><text x="811" y="2400.4">−5</text><text x="811" y="2452">−10</text>
</g>
<g font-size="18" fill="#4d4d4d" text-anchor="middle">
<text x="941.4" y="2469">3000</text><text x="1063.4" y="2469">6000</text><text x="1186.8" y="2469">9000</text><text x="1309.3" y="2469">12000</text>
</g>
<text x="1071" y="2492" font-size="21" text-anchor="middle">Rank in Ordered Dataset</text>
<text x="770" y="2079" font-size="21" text-anchor="middle" transform="rotate(-90 770 2079)">Running Enrichment Score</text>
<text x="770" y="2366" font-size="21" text-anchor="middle" transform="rotate(-90 770 2366)">Ranked List Metric</text>
<text x="1060" y="1995" font-size="25">NES = 2.04</text>
<text x="1060" y="2026" font-size="25">Adj. P-value = 6.06E-08</text>
</svg>
</body></html>
